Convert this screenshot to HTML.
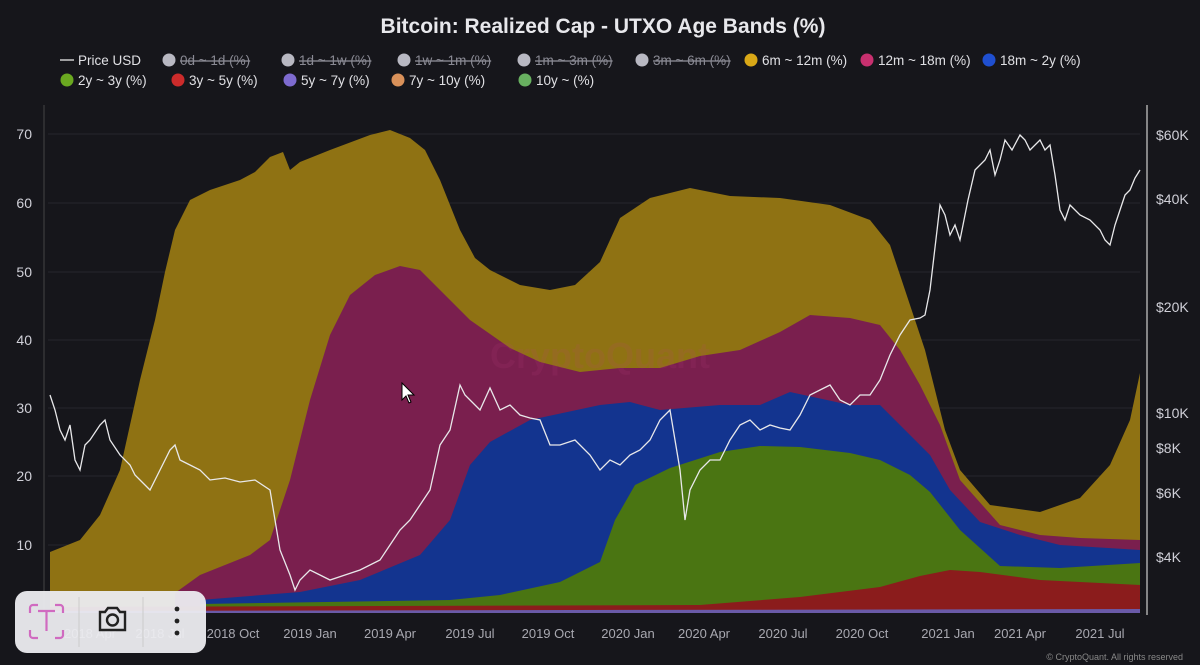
<!DOCTYPE html>
<html><head><meta charset="utf-8"><style>
html,body{margin:0;padding:0;background:#16161b;}
svg{display:block;font-family:"Liberation Sans",sans-serif;}
</style></head><body>
<svg width="1200" height="665" viewBox="0 0 1200 665" xmlns="http://www.w3.org/2000/svg">
<rect width="1200" height="665" fill="#16161b"/>
<text x="603" y="33" text-anchor="middle" fill="#e8e8ec" font-size="21" font-weight="bold">Bitcoin: Realized Cap - UTXO Age Bands (%)</text>
<g font-size="13.5" fill="#e0e0e4">
<line x1="60" y1="60" x2="74" y2="60" stroke="#ccc" stroke-width="1.5"/><text x="78" y="65">Price USD</text>
<g fill="#8a8a94" text-decoration="line-through">
<circle cx="169" cy="60" r="6.5" fill="#b8b8c2"/><text x="180" y="65">0d ~ 1d (%)</text>
<circle cx="288" cy="60" r="6.5" fill="#b8b8c2"/><text x="299" y="65">1d ~ 1w (%)</text>
<circle cx="404" cy="60" r="6.5" fill="#b8b8c2"/><text x="415" y="65">1w ~ 1m (%)</text>
<circle cx="524" cy="60" r="6.5" fill="#b8b8c2"/><text x="535" y="65">1m ~ 3m (%)</text>
<circle cx="642" cy="60" r="6.5" fill="#b8b8c2"/><text x="653" y="65">3m ~ 6m (%)</text>
</g>
<circle cx="751" cy="60" r="6.5" fill="#d9a817"/><text x="762" y="65">6m ~ 12m (%)</text>
<circle cx="867" cy="60" r="6.5" fill="#c8306f"/><text x="878" y="65">12m ~ 18m (%)</text>
<circle cx="989" cy="60" r="6.5" fill="#1f4fd0"/><text x="1000" y="65">18m ~ 2y (%)</text>
<circle cx="67" cy="80" r="6.5" fill="#6aa820"/><text x="78" y="85">2y ~ 3y (%)</text>
<circle cx="178" cy="80" r="6.5" fill="#cc2b2b"/><text x="189" y="85">3y ~ 5y (%)</text>
<circle cx="290" cy="80" r="6.5" fill="#7e6bd0"/><text x="301" y="85">5y ~ 7y (%)</text>
<circle cx="398" cy="80" r="6.5" fill="#d9915a"/><text x="409" y="85">7y ~ 10y (%)</text>
<circle cx="525" cy="80" r="6.5" fill="#68b060"/><text x="536" y="85">10y ~ (%)</text>
</g>
<g stroke="#26262e" stroke-width="1">
<line x1="48" y1="134" x2="1140" y2="134"/><line x1="48" y1="203" x2="1140" y2="203"/><line x1="48" y1="272" x2="1140" y2="272"/><line x1="48" y1="340" x2="1140" y2="340"/><line x1="48" y1="408" x2="1140" y2="408"/><line x1="48" y1="476" x2="1140" y2="476"/><line x1="48" y1="545" x2="1140" y2="545"/>
</g>
<line x1="44" y1="105" x2="44" y2="615" stroke="#444" />
<line x1="1147" y1="105" x2="1147" y2="615" stroke="#aaa" stroke-width="1.5"/>
<g font-size="14" fill="#d0d0d8" text-anchor="end">
<text x="32" y="139">70</text><text x="32" y="208">60</text><text x="32" y="277">50</text><text x="32" y="345">40</text><text x="32" y="413">30</text><text x="32" y="481">20</text><text x="32" y="550">10</text>
</g>
<g font-size="14" fill="#d0d0d8">
<text x="1156" y="140">$60K</text><text x="1156" y="204">$40K</text><text x="1156" y="312">$20K</text><text x="1156" y="418">$10K</text><text x="1156" y="453">$8K</text><text x="1156" y="498">$6K</text><text x="1156" y="562">$4K</text>
</g>
<polygon fill="#8f7213" points="50,613 50,552 80,540 100,515 120,470 140,380 155,320 165,272 175,230 190,200 210,190 240,180 255,172 270,157 283,152 290,170 300,162 330,150 370,135 390,130 410,138 425,150 440,180 460,230 475,258 490,270 520,285 550,290 575,285 600,262 620,218 650,198 690,188 730,196 780,198 830,205 870,220 890,245 905,290 925,350 945,430 960,470 990,505 1040,512 1080,498 1110,465 1130,420 1140,373 1140,613"/>
<polygon fill="#7a1f4e" points="175,613 175,593 200,575 250,555 270,540 290,480 310,400 330,335 350,295 375,275 400,266 420,270 440,290 470,320 510,348 540,362 580,372 620,368 660,368 700,356 740,350 780,332 810,315 850,318 880,325 900,350 920,385 940,425 960,480 1000,525 1040,535 1080,538 1140,540 1140,613"/>
<polygon fill="#13348f" points="200,613 200,600 300,592 360,580 420,555 450,520 470,465 490,442 530,420 600,405 630,402 660,410 720,405 760,405 790,392 850,405 880,405 900,425 930,455 950,490 980,522 1020,535 1060,545 1140,550 1140,613"/>
<polygon fill="#4a7512" points="200,613 200,604 450,600 500,595 560,582 600,562 615,520 635,485 670,468 720,452 760,446 800,447 850,453 880,460 910,475 930,492 960,530 1000,566 1060,568 1140,563 1140,613"/>
<polygon fill="#8b1c1c" points="50,613 50,607 700,605 800,597 880,587 920,576 950,570 980,572 1040,580 1140,585 1140,613"/>
<polygon fill="#6a5aa8" points="50,613 50,611 1140,609 1140,613"/>
<text x="600" y="368" text-anchor="middle" font-size="36" font-weight="bold" fill="#c04080" opacity="0.12">CryptoQuant</text>
<polyline fill="none" stroke="#e8e8ea" stroke-width="1.3" points="50,395 55,410 60,430 65,440 70,425 75,460 80,470 85,445 90,440 100,425 105,420 110,440 120,455 130,465 135,475 140,480 150,490 160,470 170,450 175,445 180,460 190,465 200,470 210,480 225,478 240,482 255,480 270,490 275,520 280,550 290,575 295,590 300,580 310,570 320,575 330,580 345,575 360,570 380,560 390,545 400,530 410,520 420,505 430,490 440,445 450,430 460,385 465,395 470,400 480,410 490,388 500,410 510,405 520,415 530,418 540,420 550,445 560,445 575,440 590,455 600,470 610,460 620,465 630,455 640,450 650,440 660,420 670,410 675,440 680,470 685,520 690,490 700,470 710,460 720,460 730,440 740,425 750,420 760,430 770,425 780,428 790,430 800,415 810,395 820,390 830,385 840,400 850,405 860,395 870,395 880,380 890,355 900,335 910,320 920,318 925,315 930,290 940,205 945,215 950,235 955,225 960,240 968,200 975,170 985,160 990,150 995,175 1000,160 1005,140 1012,150 1020,135 1025,140 1030,150 1040,140 1045,150 1050,145 1055,175 1060,210 1065,220 1070,205 1080,215 1090,220 1100,230 1105,240 1110,245 1115,225 1120,210 1125,195 1130,190 1135,178 1140,170"/>
<g font-size="13" fill="#a8a8b0" text-anchor="middle">
<text x="90" y="638">2018 Apr</text><text x="160" y="638">2018 Jul</text>
<text x="233" y="638">2018 Oct</text><text x="310" y="638">2019 Jan</text><text x="390" y="638">2019 Apr</text><text x="470" y="638">2019 Jul</text><text x="548" y="638">2019 Oct</text><text x="628" y="638">2020 Jan</text><text x="704" y="638">2020 Apr</text><text x="783" y="638">2020 Jul</text><text x="862" y="638">2020 Oct</text><text x="948" y="638">2021 Jan</text><text x="1020" y="638">2021 Apr</text><text x="1100" y="638">2021 Jul</text>
</g>
<text x="1183" y="660" text-anchor="end" font-size="9" fill="#888">© CryptoQuant. All rights reserved</text>
<rect x="15" y="591" width="191" height="62" rx="12" fill="#ececf0" opacity="0.95"/>
<line x1="79" y1="597" x2="79" y2="647" stroke="#ccc"/><line x1="143" y1="597" x2="143" y2="647" stroke="#ccc"/>
<g fill="none" stroke="#d06ac0" stroke-width="2.2">
<path d="M30 613 v-5 a3 3 0 0 1 3 -3 h5 M55 605 h5 a3 3 0 0 1 3 3 v5 M63 630 v5 a3 3 0 0 1 -3 3 h-5 M38 638 h-5 a3 3 0 0 1 -3 -3 v-5"/>
<path d="M38 611 h17 M46.5 611 v20"/>
</g>
<g fill="none" stroke="#222" stroke-width="2.4">
<path d="M100 612 h5 l3 -4 h9 l3 4 h5 v18 h-25 z"/><circle cx="112.5" cy="620" r="5.5"/>
</g>
<g fill="#222"><circle cx="177" cy="609" r="2.4"/><circle cx="177" cy="621" r="2.4"/><circle cx="177" cy="633" r="2.4"/></g>
<path d="M402 383 v17 l4 -4 l3 7 l2 -1 l-3 -7 h6 z" fill="#fff" stroke="#000" stroke-width="1"/>
</svg>
</body></html>
